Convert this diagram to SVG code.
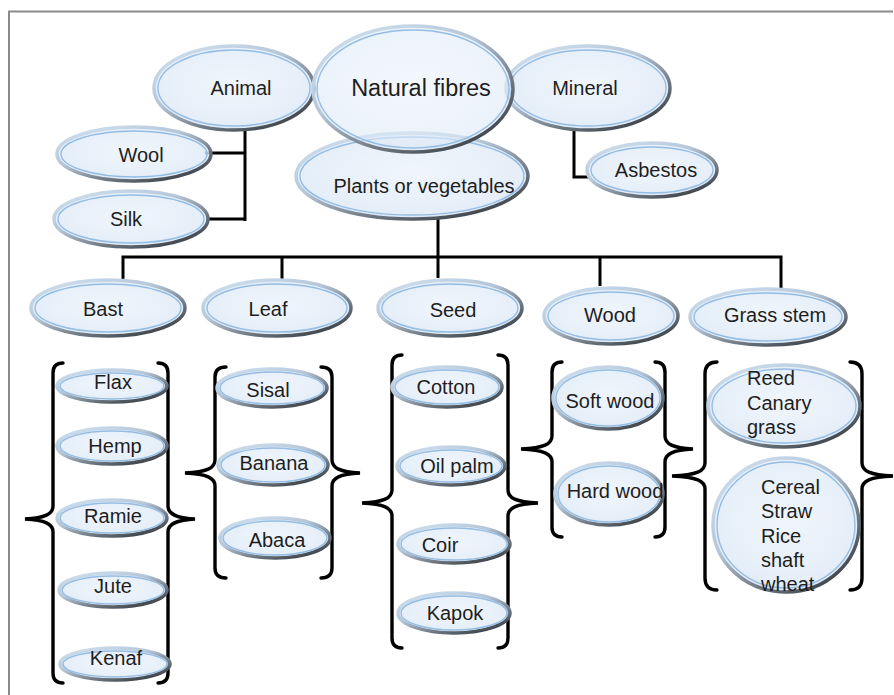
<svg xmlns="http://www.w3.org/2000/svg" width="894" height="695" viewBox="0 0 894 695">
<defs>
<radialGradient id="fillG" cx="0.5" cy="0.45" r="0.6">
<stop offset="0" stop-color="#ecf3fb"/>
<stop offset="0.8" stop-color="#dfeaf7"/>
<stop offset="1" stop-color="#cbdcef"/>
</radialGradient>
<linearGradient id="rimG" x1="0.1" y1="0" x2="0.9" y2="1">
<stop offset="0" stop-color="#cfe0f0"/>
<stop offset="0.4" stop-color="#b5c6d8"/>
<stop offset="0.7" stop-color="#6f7882"/>
<stop offset="1" stop-color="#2f3338"/>
</linearGradient>
<style>
.o{fill:url(#fillG);fill-opacity:0.8;stroke:url(#rimG);stroke-width:3.5}
.i{fill:none;stroke:#93bde4;stroke-width:1.4}
.t{font-family:"Liberation Sans",Arial,sans-serif;font-size:20px;fill:#1e1e1e;text-anchor:middle}
.l{font-family:"Liberation Sans",Arial,sans-serif;font-size:20px;fill:#1e1e1e}
.c{fill:none;stroke:#000;stroke-width:3;stroke-linejoin:miter}
.b{fill:none;stroke:#000;stroke-width:3.4;stroke-linecap:round}
</style>
</defs>
<rect x="0" y="0" width="894" height="695" fill="#fff"/>
<path d="M9,695 V11.5 H893" fill="none" stroke="#8a8a8a" stroke-width="2"/>

<g id="connectors">
<path class="c" d="M245,130 V221 M205,153 H246.5 M207,219 H246.5"/>
<path class="c" d="M574,130 V177 H590"/>
<path class="c" d="M438,219 V257"/>
<path class="c" d="M123,279 V257 H781 V289"/>
<path class="c" d="M282,257 V279 M438,257 V278 M600,257 V286"/>
<path class="b" d="M63,363 Q53,363 53,373 V506 C53,514 45,518 25,519 C45,520 53,524 53,532 V673 Q53,683 63,683"/>
<path class="b" d="M158,363 Q168,363 168,373 V506 C168,514 176,518 195,519 C176,520 168,524 168,532 V673 Q168,683 158,683"/>
<path class="b" d="M226,367 Q215,367 215,377 V460 C215,468 207,472 185,473 C207,474 215,478 215,486 V568 Q215,578 226,578"/>
<path class="b" d="M321,367 Q332,367 332,377 V460 C332,468 340,472 360,473 C340,474 332,478 332,486 V568 Q332,578 321,578"/>
<path class="b" d="M402,355 Q392,355 392,365 V490 C392,498 384,502 362,503 C384,504 392,508 392,516 V638 Q392,648 402,648"/>
<path class="b" d="M498,355 Q508,355 508,365 V490 C508,498 516,502 538,503 C516,504 508,508 508,516 V638 Q508,648 498,648"/>
<path class="b" d="M562,362 Q552,362 552,372 V436 C552,444 544,448 521,449 C544,450 552,454 552,462 V527 Q552,537 562,537"/>
<path class="b" d="M655,362 Q665,362 665,372 V436 C665,444 673,448 693,449 C673,450 665,454 665,462 V527 Q665,537 655,537"/>
<path class="b" d="M717,362 Q705,362 705,374 V463 C705,471 697,475 672,476 C697,477 705,481 705,489 V578 Q705,590 717,590"/>
<path class="b" d="M850,362 Q862,362 862,374 V463 C862,471 870,475 893,476 C870,477 862,481 862,489 V578 Q862,590 850,590"/>
</g>

<g id="n-animal"><ellipse class="o" cx="234" cy="88" rx="80" ry="42"/><ellipse class="i" cx="234" cy="88" rx="76" ry="38"/><text class="t" x="241" y="95">Animal</text></g>
<g id="n-mineral"><ellipse class="o" cx="588" cy="88" rx="82" ry="42"/><ellipse class="i" cx="588" cy="88" rx="78" ry="38"/><text class="t" x="585" y="95">Mineral</text></g>
<g id="n-plants"><ellipse class="o" cx="412" cy="176" rx="116" ry="43"/><ellipse class="i" cx="412" cy="176" rx="112" ry="39"/><text class="t" x="424" y="193">Plants or vegetables</text></g>
<g id="n-natural"><ellipse class="o" cx="413" cy="89" rx="100" ry="63" style="fill-opacity:0.6"/><ellipse class="i" cx="413" cy="89" rx="96" ry="59"/><text class="t" x="421" y="96" style="font-size:23.5px">Natural fibres</text></g>
<g id="n-wool"><ellipse class="o" cx="134" cy="154" rx="77" ry="27"/><ellipse class="i" cx="134" cy="154" rx="73" ry="23"/><text class="t" x="141" y="162">Wool</text></g>
<g id="n-silk"><ellipse class="o" cx="131" cy="219" rx="77" ry="28"/><ellipse class="i" cx="131" cy="219" rx="73" ry="24"/><text class="t" x="126" y="226">Silk</text></g>
<g id="n-asbestos"><ellipse class="o" cx="652" cy="170" rx="65" ry="27"/><ellipse class="i" cx="652" cy="170" rx="61" ry="23"/><text class="t" x="656" y="177">Asbestos</text></g>

<g id="n-bast"><ellipse class="o" cx="108" cy="308" rx="77" ry="28"/><ellipse class="i" cx="108" cy="308" rx="73" ry="24"/><text class="t" x="103" y="316">Bast</text></g>
<g id="n-leaf"><ellipse class="o" cx="277" cy="308" rx="74" ry="28"/><ellipse class="i" cx="277" cy="308" rx="70" ry="24"/><text class="t" x="268" y="316">Leaf</text></g>
<g id="n-seed"><ellipse class="o" cx="450" cy="308" rx="72" ry="28"/><ellipse class="i" cx="450" cy="308" rx="68" ry="24"/><text class="t" x="453" y="317">Seed</text></g>
<g id="n-wood"><ellipse class="o" cx="611" cy="316" rx="67" ry="28"/><ellipse class="i" cx="611" cy="316" rx="63" ry="24"/><text class="t" x="610" y="322">Wood</text></g>
<g id="n-grass"><ellipse class="o" cx="768" cy="317" rx="78" ry="28"/><ellipse class="i" cx="768" cy="317" rx="74" ry="24"/><text class="t" x="775" y="322">Grass stem</text></g>

<g id="n-flax"><ellipse class="o" cx="112" cy="386" rx="55" ry="16"/><ellipse class="i" cx="112" cy="386" rx="52" ry="13"/><text class="t" x="113" y="389">Flax</text></g>
<g id="n-hemp"><ellipse class="o" cx="112" cy="446" rx="55" ry="18"/><ellipse class="i" cx="112" cy="446" rx="52" ry="15"/><text class="t" x="115" y="453">Hemp</text></g>
<g id="n-ramie"><ellipse class="o" cx="112" cy="518" rx="55" ry="18"/><ellipse class="i" cx="112" cy="518" rx="52" ry="15"/><text class="t" x="113" y="523">Ramie</text></g>
<g id="n-jute"><ellipse class="o" cx="113" cy="590" rx="54" ry="17"/><ellipse class="i" cx="113" cy="590" rx="51" ry="14"/><text class="t" x="113" y="593">Jute</text></g>
<g id="n-kenaf"><ellipse class="o" cx="115" cy="664" rx="55" ry="16"/><ellipse class="i" cx="115" cy="664" rx="52" ry="13"/><text class="t" x="116" y="665">Kenaf</text></g>

<g id="n-sisal"><ellipse class="o" cx="272" cy="388" rx="55" ry="19"/><ellipse class="i" cx="272" cy="388" rx="52" ry="16"/><text class="t" x="268" y="397">Sisal</text></g>
<g id="n-banana"><ellipse class="o" cx="273" cy="465" rx="55" ry="20"/><ellipse class="i" cx="273" cy="465" rx="52" ry="17"/><text class="t" x="274" y="470">Banana</text></g>
<g id="n-abaca"><ellipse class="o" cx="275" cy="538" rx="55" ry="20"/><ellipse class="i" cx="275" cy="538" rx="52" ry="17"/><text class="t" x="277" y="547">Abaca</text></g>

<g id="n-cotton"><ellipse class="o" cx="447" cy="387" rx="55" ry="20"/><ellipse class="i" cx="447" cy="387" rx="52" ry="17"/><text class="t" x="446" y="394">Cotton</text></g>
<g id="n-oilpalm"><ellipse class="o" cx="451" cy="466" rx="54" ry="19"/><ellipse class="i" cx="451" cy="466" rx="51" ry="16"/><text class="t" x="457" y="473">Oil palm</text></g>
<g id="n-coir"><ellipse class="o" cx="454" cy="544" rx="56" ry="19"/><ellipse class="i" cx="454" cy="544" rx="53" ry="16"/><text class="t" x="440" y="552">Coir</text></g>
<g id="n-kapok"><ellipse class="o" cx="454" cy="613" rx="56" ry="20"/><ellipse class="i" cx="454" cy="613" rx="53" ry="17"/><text class="t" x="455" y="620">Kapok</text></g>

<g id="n-softwood"><ellipse class="o" cx="608" cy="398" rx="55" ry="31"/><ellipse class="i" cx="608" cy="398" rx="52" ry="28"/><text class="t" x="610" y="408">Soft wood</text></g>
<g id="n-hardwood"><ellipse class="o" cx="609" cy="494" rx="54" ry="31"/><ellipse class="i" cx="609" cy="494" rx="51" ry="28"/><text class="t" x="615" y="498">Hard wood</text></g>

<g id="n-reed"><ellipse class="o" cx="784" cy="406" rx="76" ry="41"/><ellipse class="i" cx="784" cy="406" rx="72" ry="37"/><text class="l" x="747" y="385">Reed</text><text class="l" x="747" y="410">Canary</text><text class="l" x="747" y="434">grass</text></g>
<g id="n-cereal"><ellipse class="o" cx="786" cy="525" rx="73" ry="67"/><ellipse class="i" cx="786" cy="525" rx="69" ry="63"/><text class="l" x="761" y="494">Cereal</text><text class="l" x="761" y="518">Straw</text><text class="l" x="761" y="543">Rice</text><text class="l" x="761" y="567">shaft</text><text class="l" x="761" y="591">wheat</text></g>
</svg>
